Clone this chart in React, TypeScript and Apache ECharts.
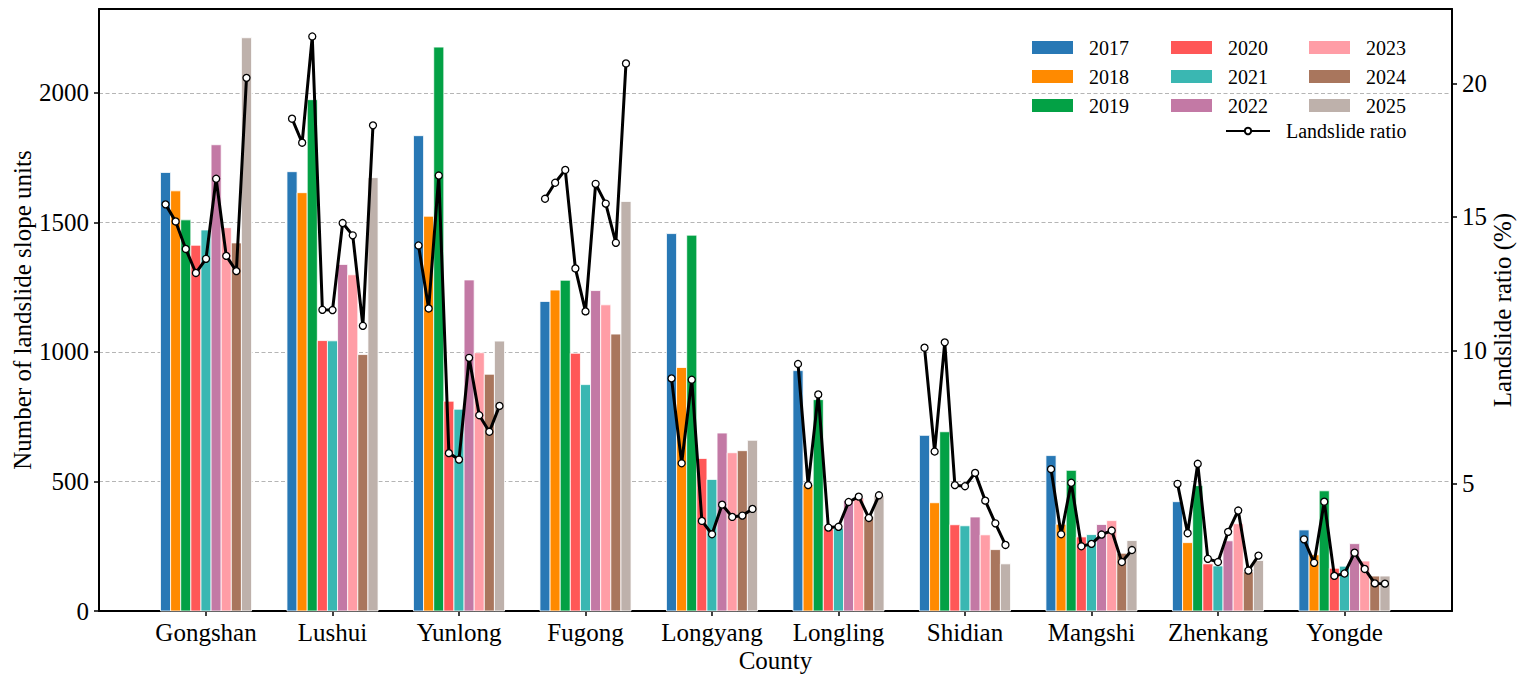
import React, { useEffect, useRef } from "react";
import * as echarts from "echarts";

const counties = ["Gongshan", "Lushui", "Yunlong", "Fugong", "Longyang", "Longling", "Shidian", "Mangshi", "Zhenkang", "Yongde"];
const years = ["2017", "2018", "2019", "2020", "2021", "2022", "2023", "2024", "2025"];
const yearColors = ["#2878B5", "#FF8A00", "#03A145", "#FF5757", "#3AB7B2", "#C379A5", "#FF9DA6", "#A9765D", "#BEB1AB"];

// Number of landslide slope units, per year, in county order
const units2017 = [1693, 1696, 1835, 1195, 1457, 928, 678, 600, 422, 313];
const units2018 = [1622, 1615, 1524, 1239, 940, 487, 418, 335, 264, 217];
const units2019 = [1510, 1974, 2177, 1277, 1451, 816, 692, 543, 484, 464];
const units2020 = [1412, 1044, 810, 995, 589, 329, 333, 286, 182, 165];
const units2021 = [1471, 1043, 779, 874, 508, 320, 329, 295, 174, 173];
const units2022 = [1800, 1338, 1278, 1237, 687, 427, 363, 334, 271, 260];
const units2023 = [1480, 1298, 997, 1182, 611, 436, 294, 349, 337, 193];
const units2024 = [1421, 990, 914, 1069, 619, 365, 237, 223, 151, 135];
const units2025 = [2213, 1673, 1042, 1581, 659, 446, 182, 272, 195, 135];
const unitsByYear = [units2017, units2018, units2019, units2020, units2021, units2022, units2023, units2024, units2025];

// Landslide ratio (%), per county, years 2017..2025
const ratioGongshan = [15.47, 14.83, 13.8, 12.9, 13.43, 16.43, 13.54, 12.97, 20.21];
const ratioLushui = [18.68, 17.78, 21.76, 11.52, 11.51, 14.77, 14.31, 10.92, 18.43];
const ratioYunlong = [13.93, 11.57, 16.55, 6.15, 5.91, 9.72, 7.57, 6.95, 7.92];
const ratioFugong = [15.68, 16.28, 16.76, 13.07, 11.46, 16.24, 15.5, 14.03, 20.75];
const ratioLongyang = [8.95, 5.77, 8.9, 3.61, 3.11, 4.22, 3.76, 3.81, 4.06];
const ratioLongling = [9.49, 4.95, 8.35, 3.36, 3.39, 4.32, 4.52, 3.72, 4.57];
const ratioShidian = [10.1, 6.21, 10.3, 4.95, 4.91, 5.41, 4.37, 3.52, 2.71];
const ratioMangshi = [5.55, 3.11, 5.04, 2.66, 2.75, 3.1, 3.25, 2.07, 2.52];
const ratioZhenkang = [5.0, 3.15, 5.75, 2.19, 2.07, 3.2, 4.0, 1.75, 2.31];
const ratioYongde = [2.92, 2.04, 4.33, 1.55, 1.64, 2.42, 1.81, 1.27, 1.26];
const ratioByCounty = [ratioGongshan, ratioLushui, ratioYunlong, ratioFugong, ratioLongyang, ratioLongling, ratioShidian, ratioMangshi, ratioZhenkang, ratioYongde];

const leftTicks = [0, 500, 1000, 1500, 2000];
const rightTicks = [5, 10, 15, 20];

const FONT = "Liberation Serif";
const BAR_W = 0.08;

export default function App() {
  const ref = useRef<HTMLDivElement>(null);
  useEffect(() => {
    const chart = echarts.init(ref.current!, null, { renderer: "svg" });
    const catIdx = counties.map((_, i) => i);
    const spine = { show: true, onZero: false, lineStyle: { color: "#000", width: 2 } };
    const tickStyle = { color: "#000", width: 1.5 };
    const labelStyle = { color: "#000", fontFamily: FONT, fontSize: 25 };
    const nameStyle = { color: "#000", fontFamily: FONT, fontSize: 25 };

    const barSeries = years.map((yr, j) => ({
      type: "custom",
      name: yr,
      xAxisIndex: 0,
      yAxisIndex: 0,
      itemStyle: { color: yearColors[j] },
      encode: { x: 0, y: 1 },
      z: 2,
      data: unitsByYear[j].map((v, i) => [i, v]),
      renderItem: (params: any, api: any) => {
        const i = api.value(0);
        const v = api.value(1);
        const xc = i + (j - 4) * BAR_W;
        const tl = api.coord([xc - BAR_W / 2, v]);
        const br = api.coord([xc + BAR_W / 2, 0]);
        return {
          type: "rect",
          shape: { x: tl[0], y: tl[1], width: br[0] - tl[0], height: br[1] - tl[1] },
          style: { fill: yearColors[j], stroke: "#ffffff", lineWidth: 0.8 },
        };
      },
    }));

    const lineSeries = ratioByCounty.map((arr, i) => ({
      type: "line",
      name: "Landslide ratio",
      xAxisIndex: 0,
      yAxisIndex: 1,
      z: 10,
      symbol: "circle",
      symbolSize: 7,
      showSymbol: true,
      lineStyle: { color: "#000", width: 3 },
      itemStyle: { color: "#ffffff", borderColor: "#000", borderWidth: 1.3 },
      data: arr.map((r, j) => [i + (j - 4) * BAR_W, r]),
    }));

    const legendBase = {
      orient: "vertical",
      itemWidth: 41,
      itemHeight: 13,
      itemGap: 9,
      padding: 0,
      icon: "rect",
      selectedMode: false,
      textStyle: { fontFamily: FONT, fontSize: 20, color: "#000", padding: [0, 0, 0, 11] },
    };

    const option: any = {
      animation: false,
      color: yearColors,
      grid: { left: 99, right: 73, top: 9, bottom: 71, outerBoundsMode: "none", containLabel: false },
      legend: [
        { ...legendBase, left: 1032, top: 37.5, data: years.slice(0, 3) },
        { ...legendBase, left: 1171, top: 37.5, data: years.slice(3, 6) },
        { ...legendBase, left: 1309, top: 37.5, data: years.slice(6, 9) },
        {
          ...legendBase,
          left: 1225,
          top: 121,
          itemWidth: 44,
          itemHeight: 8,
          icon: undefined,
          data: ["Landslide ratio"],
        },
      ],
      xAxis: [
        {
          type: "value",
          position: "bottom",
          min: -0.846,
          max: 9.85,
          axisLine: spine,
          axisTick: { show: true, customValues: catIdx, length: 5, lineStyle: tickStyle },
          axisLabel: { ...labelStyle, customValues: catIdx, margin: 9, formatter: (v: number) => counties[Math.round(v)] ?? "" },
          splitLine: { show: false },
          name: "County",
          nameLocation: "middle",
          nameGap: 37,
          nameMoveOverlap: false,
          nameTextStyle: nameStyle,
        },
        {
          type: "value",
          position: "top",
          min: -0.846,
          max: 9.85,
          axisLine: spine,
          axisTick: { show: false },
          axisLabel: { show: false },
          splitLine: { show: false },
        },
      ],
      yAxis: [
        {
          type: "value",
          position: "left",
          min: 0,
          max: 2324,
          interval: 500,
          axisLine: spine,
          axisTick: { show: true, customValues: leftTicks, length: 5, lineStyle: tickStyle },
          axisLabel: { ...labelStyle, customValues: leftTicks, margin: 10, formatter: (v: number) => String(v) },
          splitLine: { show: true, lineStyle: { type: [4, 2.5], color: "#b5b5b5", width: 1 } },
          name: "Number of landslide slope units",
          nameLocation: "middle",
          nameRotate: 90,
          nameGap: 64,
          nameMoveOverlap: false,
          nameTextStyle: nameStyle,
        },
        {
          type: "value",
          position: "right",
          min: 0.235,
          max: 22.79,
          axisLine: spine,
          axisTick: { show: true, customValues: rightTicks, length: 5, lineStyle: tickStyle },
          axisLabel: { ...labelStyle, customValues: rightTicks, margin: 10, formatter: (v: number) => String(v) },
          splitLine: { show: false },
          name: "Landslide ratio (%)",
          nameLocation: "middle",
          nameRotate: 90,
          nameGap: 38,
          nameMoveOverlap: false,
          nameTextStyle: nameStyle,
        },
      ],
      series: [...barSeries, ...lineSeries],
    };
    chart.setOption(option);
    return () => chart.dispose();
  }, []);
  return <div ref={ref} style={{ position: "fixed", left: 0, top: 0, width: 1525, height: 682, background: "#fff" }} />;
}
